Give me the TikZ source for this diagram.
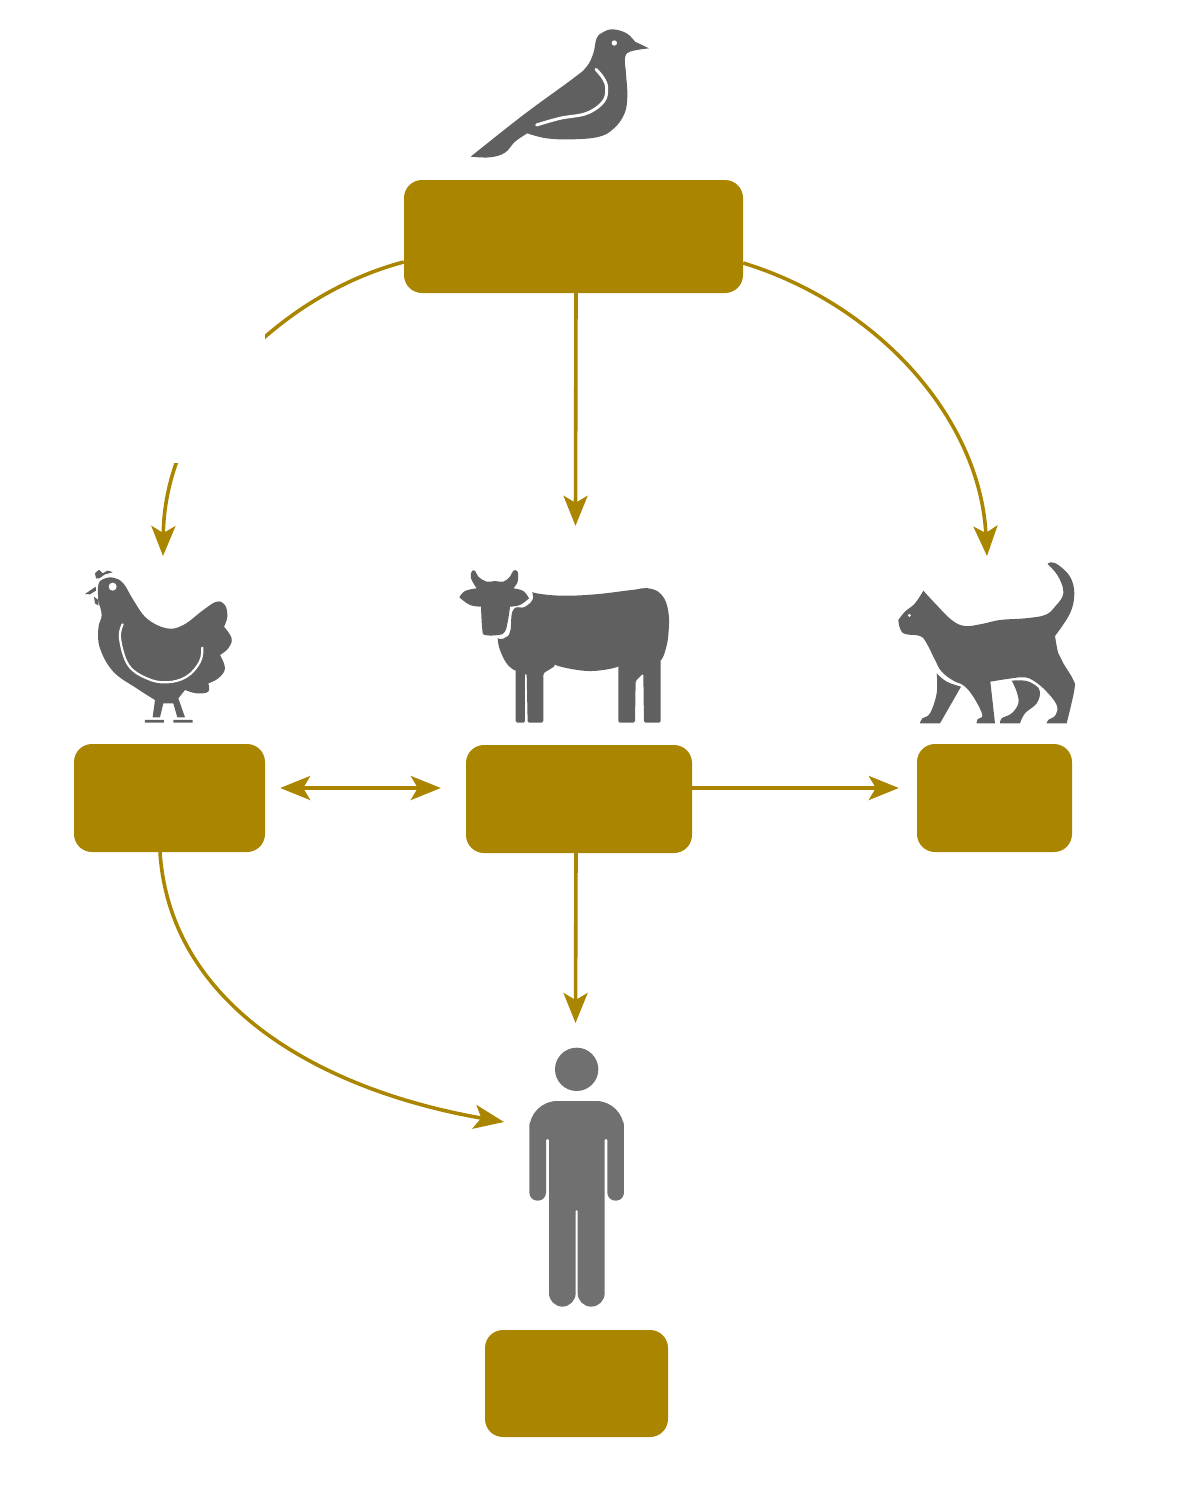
\documentclass[tikz,border=0pt]{standalone}
\usepackage[x11names, svgnames]{xcolor}
\usepackage{tikz}
\usetikzlibrary{arrows.meta, calc}
\definecolor{boxgold}{HTML}{AA8500}
\definecolor{icongray}{HTML}{606060}
\definecolor{mangray}{HTML}{707070}
\tikzset{
	hostbox/.style={fill=boxgold, rounded corners=18pt, inner sep=0pt},
	flow/.style={draw=boxgold, line width=3.6pt, -{Stealth[length=30pt, width=24pt, inset=7pt]}},
	twoway/.style={draw=boxgold, line width=3.6pt, {Stealth[length=30pt, width=24pt, inset=7pt]}-{Stealth[length=30pt, width=24pt, inset=7pt]}},
	icon/.style={fill=icongray},
	wing/.style={draw=white, line width=3pt, line cap=round},
	trace/.style={smooth, tension=0.65}
}

\begin{document}
\begin{tikzpicture}[x=1pt, y=-1pt, line cap=butt]
	\useasboundingbox (0,0) rectangle (1190,1504);

	\node[hostbox, minimum width=339pt, minimum height=113pt] (birdbox) at (573.5,236.5) {};
	\node[hostbox, minimum width=191pt, minimum height=108pt] (henbox) at (169.5,798) {};
	\node[hostbox, minimum width=226pt, minimum height=108pt] (cowbox) at (579,799) {};
	\node[hostbox, minimum width=155pt, minimum height=108pt] (catbox) at (994.5,798) {};
	\node[hostbox, minimum width=183pt, minimum height=107pt] (humanbox) at (576.5,1383.5) {};

	\coordinate (hentip) at (163,556);
	\coordinate (cattip) at (987,556);
	\coordinate (mantop) at (575.5,1023);
	\coordinate (manside) at (504,1122);

	\draw[flow] ([yshift=-25.5pt]birdbox.west) .. controls (285,293) and (165,405) .. (hentip);
	\fill[white] (150,320) rectangle (265,463);
	\draw[flow] ([yshift=-26.5pt]birdbox.east) .. controls (880,305) and (980,420) .. (cattip);
	\draw[flow, shorten >=219pt] ([xshift=2.5pt]birdbox.south) -- ([xshift=-4pt]cowbox.north);
	\draw[twoway, shorten <=15pt, shorten >=25pt] ([yshift=10pt]henbox.east) -- ([yshift=11pt]cowbox.west);
	\draw[flow, shorten >=18pt] ([yshift=11pt]cowbox.east) -- ([yshift=10pt]catbox.west);
	\draw[flow] ([xshift=-3pt]cowbox.south) -- (mantop);
	\draw[flow] ([xshift=-9.5pt]henbox.south) .. controls (170,1005) and (320,1090) .. (manside);

	% bird
	\begin{scope}[shift={(440,10)}, scale=0.3333]
		\fill[icon] plot[trace] coordinates {(92,440) (250,315) (400,205) (440,170) (460,130) (470,85) (490,66) (520,58) (560,70) (585,95)}
			-- (627,115) -- plot[trace] coordinates {(627,115) (570,125) (555,145) (558,190) (562,260) (553,312) (522,355) (478,380) (400,388) (320,385) (262,370)}
			-- plot[trace] coordinates {(262,370) (225,395) (195,428) (150,442) (92,440)} -- cycle;
		\draw[wing] plot[trace] coordinates {(468,178) (490,205) (500,235) (490,275) (440,310) (360,325) (290,345)};
		\fill[white] (523,99) circle (8);
	\end{scope}

	% hen
	\begin{scope}[shift={(70,555)}, scale=0.3333]
		\fill[icon] plot[trace] coordinates {(85,140) (85,90) (100,72) (130,68) (160,85) (190,135) (230,190) (290,220) (340,210) (400,165) (440,140) (465,150) (472,185) (462,215)}
			-- plot[trace] coordinates {(462,215) (485,250) (475,280) (450,300)}
			-- plot[trace] coordinates {(450,300) (465,340) (445,370) (415,385)}
			-- plot[trace] coordinates {(415,385) (415,410) (380,415) (345,405)}
			-- (325,430) -- (345,487) -- (322,487) -- (310,445) -- (280,445) -- (270,487) -- (248,487) -- (255,435)
			-- plot[trace] coordinates {(255,435) (200,400) (130,350) (90,280) (85,220) (95,180) (85,140)} -- cycle;
		\fill[icon] (225,495) rectangle (282,503) (310,495) rectangle (368,503);
		\fill[icon] plot[trace] coordinates {(75,55) (88,45) (98,55) (112,47) (128,52)} -- (105,58) -- (88,70) -- (78,70) -- cycle;
		\fill[icon] (45,117) -- (77,95) -- (78,107) -- (60,118) -- cycle;
		\fill[icon] (72,125) -- (85,135) -- (85,152) -- (75,145) -- cycle;
		\draw[wing, line width=2.2pt] plot[trace] coordinates {(158,208) (150,250) (175,330) (230,370) (290,382) (350,365) (390,320) (397,278)};
		\fill[white] (128,95) circle (12);
	\end{scope}

	% cow
	\begin{scope}[shift={(445,555)}, scale=0.3333]
		\fill[icon] plot[trace] coordinates {(43,127) (60,108) (95,100)} -- plot[trace] coordinates {(95,100) (78,70) (80,50) (90,47) (100,65) (125,80) (150,78) (175,80) (195,65) (205,47) (218,50) (218,80) (205,100)}
			-- plot[trace] coordinates {(205,100) (235,108) (252,130)} -- plot[trace] coordinates {(252,130) (225,150) (195,155)}
			-- plot[trace] coordinates {(195,155) (190,190) (180,230) (160,240) (120,240) (112,225) (108,155)}
			-- plot[trace] coordinates {(108,155) (75,150) (43,127)} -- cycle;
		\fill[icon, rounded corners=1.5pt] plot[trace] coordinates {(262,115) (350,122) (450,118) (560,105) (610,100) (650,120) (670,170) (670,240) (660,290) (647,320)}
			-- (647,503) -- (597,503) -- (595,355) -- (572,378) -- (570,503) -- (520,503) -- (520,338)
			-- plot[trace] coordinates {(520,338) (430,348) (330,333)} -- (295,355) -- (295,503) -- (248,503) -- (245,355) -- (240,355) -- (240,503) -- (212,503) -- (212,350)
			-- plot[trace] coordinates {(212,350) (185,325) (165,285) (158,253)}
			-- plot[trace] coordinates {(158,253) (180,248) (195,230) (205,165) (240,155) (262,135) (262,115)} -- cycle;
	\end{scope}

	% cat
	\begin{scope}[shift={(885,550)}, scale=0.3333]
		\fill[icon] plot[trace] coordinates {(488,42) (497,37) (520,45) (555,80) (568,130) (555,190) (510,258)}
			-- plot[trace] coordinates {(510,258) (520,310) (535,340) (565,390) (568,420) (545,520)}
			-- (485,520) -- plot[trace] coordinates {(485,520) (490,510) (512,495) (515,465) (485,425) (450,395) (420,382) (380,385) (316,395)}
			-- (330,520) -- (275,520) -- plot[trace] coordinates {(275,520) (278,507) (292,495) (268,445) (238,408) (205,392) (170,365) (150,330) (125,280) (105,258) (60,252) (45,235) (40,210)}
			-- plot[trace] coordinates {(40,210) (60,185) (90,160) (115,122)}
			-- plot[trace] coordinates {(115,122) (150,160) (200,210) (240,228) (290,222) (345,210) (420,205) (480,195) (510,170) (535,130) (520,80) (488,42)} -- cycle;
		\fill[icon] (155,370) -- plot[trace] coordinates {(155,370) (185,395) (228,410)} -- (165,520) -- (105,520)
			-- plot[trace] coordinates {(105,520) (112,505) (135,490) (155,430) (155,370)} -- cycle;
		\fill[icon] plot[trace] coordinates {(380,392) (420,392) (450,405) (465,425) (455,460) (420,490) (405,520)} -- (345,520)
			-- plot[trace] coordinates {(345,520) (350,505) (380,490) (400,460) (395,425) (380,392)} -- cycle;
		\fill[white] (73,196) circle (5);
	\end{scope}

	% man
	\begin{scope}[shift={(510,1035)}, scale=0.3333]
		\fill[mangray] (200,103) circle (65);
		\fill[mangray] (200,198) [rounded corners=28pt] -- (342,198) -- (342,340) [rounded corners=8pt] -- (342,497) -- (292,497) [rounded corners=1pt] -- (292,312) -- (284,312) [rounded corners=13.5pt] -- (284,815) -- (203,815) [rounded corners=1pt] -- (203,525) -- (197,525) [rounded corners=13.5pt] -- (197,815) -- (117,815) [rounded corners=1pt] -- (117,312) -- (108,312) [rounded corners=8pt] -- (108,497) -- (58,497) [rounded corners=28pt] -- (58,340) -- (58,198) -- (198,198);
	\end{scope}

\end{tikzpicture}
\end{document}
